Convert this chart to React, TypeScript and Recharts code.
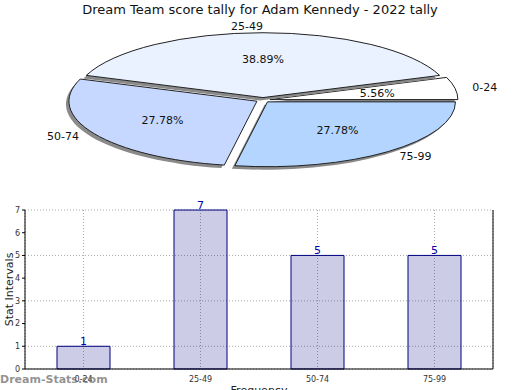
import React from "react";
import {
  PieChart,
  Pie,
  Cell,
  BarChart,
  Bar,
  XAxis,
  YAxis,
  CartesianGrid,
  LabelList,
} from "recharts";

const categories = ["0-24", "25-49", "50-74", "75-99"];
const counts = [1, 7, 5, 5];
const sliceColors = ["#ffffff", "#eaf1ff", "#c6d8ff", "#b3d5ff"];
const yTicks = [0, 1, 2, 3, 4, 5, 6, 7];

const tally = categories.map((name, i) => ({ name, value: counts[i] }));

// flat "tilted" pie: circle squashed vertically, slices pushed out a bit
const SQUASH = 0.345;
const EXPLODE = 7;
const RAD = Math.PI / 180;

function slicePath(ox: number, oy: number, r: number, a0: number, a1: number) {
  const x1 = ox + r * Math.cos(a0 * RAD);
  const y1 = oy - r * SQUASH * Math.sin(a0 * RAD);
  const x2 = ox + r * Math.cos(a1 * RAD);
  const y2 = oy - r * SQUASH * Math.sin(a1 * RAD);
  const large = Math.abs(a1 - a0) > 180 ? 1 : 0;
  const sweep = a1 > a0 ? 0 : 1;
  return `M${ox},${oy} L${x1},${y1} A${r},${r * SQUASH} 0 ${large} ${sweep} ${x2},${y2} Z`;
}

function FlatSlice(props: any) {
  const { cx, cy, outerRadius, startAngle, endAngle, fill } = props;
  const mid = (startAngle + endAngle) / 2;
  const ox = cx + EXPLODE * Math.cos(mid * RAD);
  const oy = cy - EXPLODE * SQUASH * Math.sin(mid * RAD);
  const d = slicePath(ox, oy, outerRadius, startAngle, endAngle);
  return (
    <g>
      <path d={d} transform="translate(-3,3)" fill="#8a8a8a" />
      <path d={d} fill={fill} stroke="#222" strokeWidth={1} />
    </g>
  );
}

function sliceLabels(props: any) {
  const { cx, cy, midAngle, outerRadius, percent, name } = props;
  const c = Math.cos(midAngle * RAD);
  const s = Math.sin(midAngle * RAD);
  const ox = cx + EXPLODE * c;
  const oy = cy - EXPLODE * SQUASH * s;
  const inner = outerRadius * 0.58;
  const outer = outerRadius * 1.13;
  return (
    <g>
      <text
        x={ox + inner * c}
        y={oy - inner * SQUASH * s}
        textAnchor="middle"
        dominantBaseline="central"
        fontSize={11}
        fill="#111"
      >
        {(percent * 100).toFixed(2)}%
      </text>
      <text
        x={cx + outer * c}
        y={cy - outer * SQUASH * s}
        textAnchor={c > 0.01 ? "start" : "end"}
        dominantBaseline="central"
        fontSize={11}
        fill="#111"
      >
        {name}
      </text>
    </g>
  );
}

export default function App() {
  return (
    <div
      style={{
        position: "absolute",
        left: 0,
        top: 0,
        width: 520,
        height: 390,
        background: "white",
        fontFamily: "'DejaVu Sans', sans-serif",
        overflow: "hidden",
      }}
    >
      <div
        style={{
          position: "absolute",
          top: 2,
          left: 0,
          width: 520,
          textAlign: "center",
          fontSize: 13,
          color: "#111",
        }}
      >
        Dream Team score tally for Adam Kennedy - 2022 tally
      </div>

      <div style={{ position: "absolute", top: 0, left: 0 }}>
        <PieChart width={520} height={200}>
          <Pie
            data={tally}
            dataKey="value"
            nameKey="name"
            cx={258}
            cy={95}
            outerRadius={188}
            startAngle={0}
            endAngle={360}
            stroke="none"
            shape={FlatSlice}
            activeShape={FlatSlice}
            inactiveShape={FlatSlice}
            label={sliceLabels}
            labelLine={false}
            isAnimationActive={false}
          >
            {tally.map((d, i) => (
              <Cell key={d.name} fill={sliceColors[i]} />
            ))}
          </Pie>
        </PieChart>
      </div>

      <div style={{ position: "absolute", top: 200, left: 0 }}>
        <BarChart
          width={520}
          height={190}
          data={tally}
          margin={{ top: 10, right: 0, bottom: 0, left: 0 }}
          barSize={53}
        >
          <CartesianGrid stroke="#aaa" strokeDasharray="1 2" />
          <XAxis
            dataKey="name"
            height={21}
            tickLine={false}
            axisLine={{ stroke: "#000" }}
            tick={{ fontSize: 8, fill: "#333" }}
            tickMargin={1}
            label={{
              value: "Frequency",
              position: "insideBottom",
              offset: -4,
              fontSize: 11,
              fill: "#222",
            }}
          />
          <XAxis
            xAxisId="top"
            orientation="top"
            dataKey="name"
            height={0}
            tick={false}
            tickLine={false}
            axisLine={{ stroke: "#000" }}
          />
          <YAxis
            domain={[0, 7]}
            ticks={yTicks}
            width={25}
            tickSize={3}
            tick={{ fontSize: 8, fill: "#333" }}
            axisLine={{ stroke: "#000" }}
            tickLine={{ stroke: "#000" }}
            label={{
              value: "Stat Intervals",
              angle: -90,
              position: "insideLeft",
              offset: 9,
              fontSize: 11,
              fill: "#222",
              style: { textAnchor: "middle" },
            }}
          />
          <YAxis
            yAxisId="right"
            orientation="right"
            domain={[0, 7]}
            ticks={yTicks}
            width={27}
            tickSize={4}
            tickFormatter={() => ""}
            axisLine={{ stroke: "#000" }}
            tickLine={{ stroke: "#000" }}
          />
          <Bar
            dataKey="value"
            fill="#000080"
            fillOpacity={0.2}
            stroke="#000080"
            isAnimationActive={false}
          >
            <LabelList
              dataKey="value"
              position="top"
              offset={1}
              fill="#0000aa"
              fontSize={11}
            />
          </Bar>
        </BarChart>
      </div>

      <div
        style={{
          position: "absolute",
          left: 0,
          top: 373,
          fontSize: 11,
          fontWeight: "bold",
          color: "rgba(110,110,110,0.75)",
        }}
      >
        Dream-Stats.com
      </div>
    </div>
  );
}
